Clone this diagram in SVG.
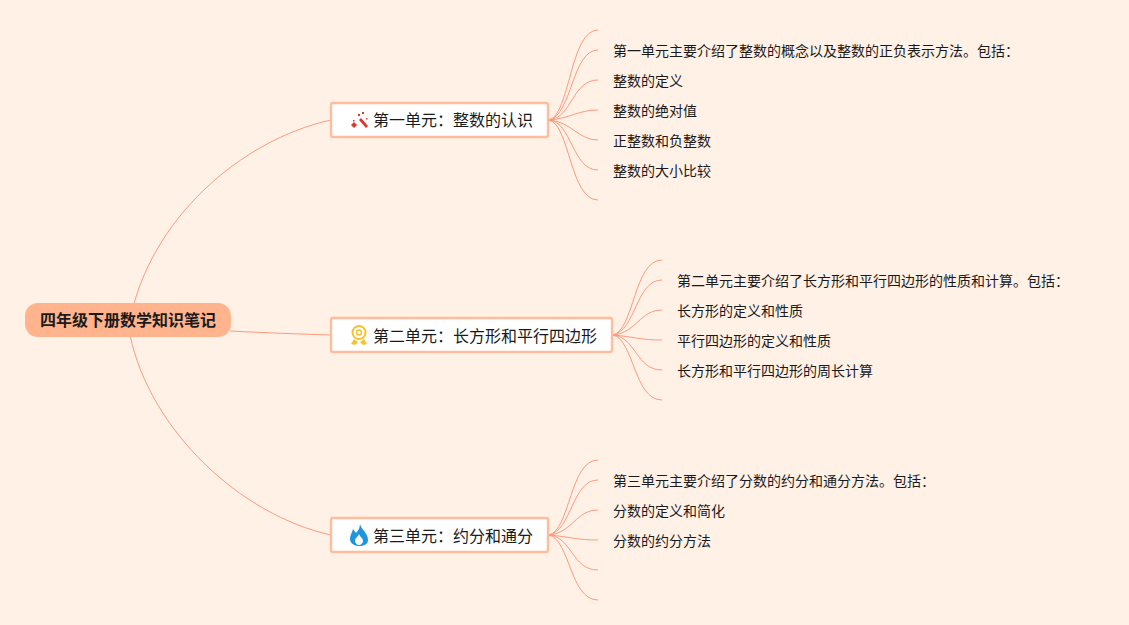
<svg xmlns="http://www.w3.org/2000/svg" width="1129" height="625" viewBox="0 0 1129 625">
<style>
text{font-family:"Noto Sans CJK SC","Liberation Sans",sans-serif;fill:#1a1a1a}
.c{fill:none;stroke:#fb9a7e;stroke-width:1}
.b{fill:#fff;stroke:#ffbd9d;stroke-width:2.4}
.t{font-size:16px}
.l{font-size:14px}
</style>
<rect width="1129" height="625" fill="#fff1e6"/>
<g id="connectors">
<path class="c" d="M130 320C150 220 240 140 331 120"/>
<path class="c" d="M230 331C270 333 300 334 331 335"/>
<path class="c" d="M130 335C150 430 240 515 331 535"/>
<path class="c" d="M549 120C570 115 570 30 598 30"/>
<path class="c" d="M549 120C572 115 572 50 598 50"/>
<path class="c" d="M549 120C572 118 572 80 598 80"/>
<path class="c" d="M549 120C572 118 578 110 598 110"/>
<path class="c" d="M549 120C572 122 578 140 598 140"/>
<path class="c" d="M549 120C572 122 572 170 598 170"/>
<path class="c" d="M549 120C570 125 570 200 598 200"/>
<path class="c" d="M613 335C634 330 634 260 662 260"/>
<path class="c" d="M613 335C636 330 636 280 662 280"/>
<path class="c" d="M613 335C636 333 640 310 662 310"/>
<path class="c" d="M613 335C636 337 640 340 662 340"/>
<path class="c" d="M613 335C636 337 636 370 662 370"/>
<path class="c" d="M613 335C634 340 634 400 662 400"/>
<path class="c" d="M549 535C570 530 570 460 598 460"/>
<path class="c" d="M549 535C572 530 572 480 598 480"/>
<path class="c" d="M549 535C572 533 576 510 598 510"/>
<path class="c" d="M549 535C572 537 576 540 598 540"/>
<path class="c" d="M549 535C572 537 572 570 598 570"/>
<path class="c" d="M549 535C570 540 570 600 598 600"/>
</g>
<g id="root">
<rect x="25" y="303" width="206" height="34" rx="13" fill="#ffb48e"/>
<text x="128" y="326" text-anchor="middle" font-size="16" font-weight="700">四年级下册数学知识笔记</text>
</g>
<g id="unit1">
<rect class="b" x="331" y="103" width="217" height="34" rx="2"/>
<g fill="#d9382b">
<path d="M359 120l2-2 7 8-2 2z"/>
<path d="M351 125l3-3 3 3-3 3z"/>
<rect x="362" y="112" width="2" height="2"/>
<rect x="358" y="114" width="2" height="2"/>
<rect x="366" y="118" width="1.5" height="1.5"/>
<rect x="353" y="120" width="1.5" height="1.5"/>
</g>
<text class="t" x="373" y="126">第一单元：整数的认识</text>
</g>
<g id="unit2">
<rect class="b" x="331" y="318" width="281" height="34" rx="2"/>
<circle cx="359" cy="332.500" r="6.500" fill="none" stroke="#f6c22d" stroke-width="2"/>
<circle cx="359" cy="332.500" r="2.500" fill="none" stroke="#f6c22d" stroke-width="1.500"/>
<path d="M354 339l-3 5 4 1 3-3zM364 339l3 5-4 1-3-3z" fill="#f6c22d"/>
<text class="t" x="373" y="342">第二单元：长方形和平行四边形</text>
</g>
<g id="unit3">
<rect class="b" x="331" y="518" width="217" height="34" rx="2"/>
<path fill-rule="evenodd" d="M360 524c1 5 8 9 8 16 0 4-4 6-9 6s-9-3-9-7c0-4 2-6 3-10 1 1 2 3 3 4 2-2 4-5 4-9zM359 534c-1 3-4 4-4 7 0 2 2 4 4 4s4-2 4-4c0-3-3-4-4-7z" fill="#1e95dc"/>
<text class="t" x="373" y="542">第三单元：约分和通分</text>
</g>
<g id="n1">
<text class="l" x="613" y="56">第一单元主要介绍了整数的概念以及整数的正负表示方法。包括：</text>
<text class="l" x="613" y="86">整数的定义</text>
<text class="l" x="613" y="116">整数的绝对值</text>
<text class="l" x="613" y="146">正整数和负整数</text>
<text class="l" x="613" y="176">整数的大小比较</text>
</g>
<g id="n2">
<text class="l" x="677" y="286">第二单元主要介绍了长方形和平行四边形的性质和计算。包括：</text>
<text class="l" x="677" y="316">长方形的定义和性质</text>
<text class="l" x="677" y="346">平行四边形的定义和性质</text>
<text class="l" x="677" y="376">长方形和平行四边形的周长计算</text>
</g>
<g id="n3">
<text class="l" x="613" y="486">第三单元主要介绍了分数的约分和通分方法。包括：</text>
<text class="l" x="613" y="516">分数的定义和简化</text>
<text class="l" x="613" y="546">分数的约分方法</text>
</g>
</svg>
